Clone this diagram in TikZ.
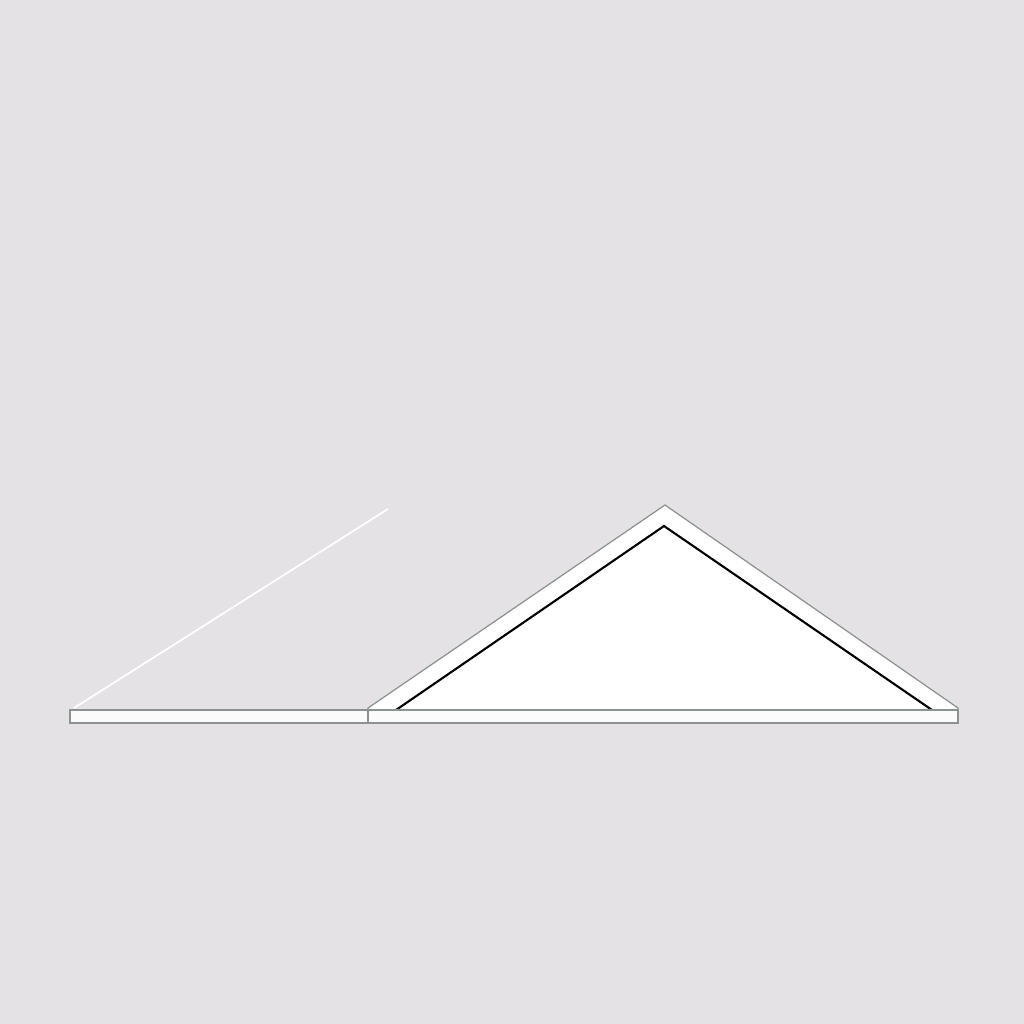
\documentclass[tikz,border=0pt]{standalone}
\usepackage{tikz}
\usetikzlibrary{positioning}

\definecolor{bgGray}{RGB}{228,226,228}
\definecolor{edgeGray}{RGB}{140,146,144}

\begin{document}
\begin{tikzpicture}[x=0.01cm,y=-0.01cm]
\tikzstyle{plank}=[fill=white!97!gray,draw=edgeGray,line width=0.35pt]
\tikzstyle{roof}=[fill=white,draw=edgeGray,line width=0.35pt]
\tikzstyle{inner}=[fill=white,draw=black,line width=0.6pt,line join=miter]

% background
\fill[bgGray] (0,0) rectangle (1024,1024);
\useasboundingbox (0,0) rectangle (1024,1024);

% corners
\coordinate (leftBarA) at (70,710);
\coordinate (leftBarB) at (368,723);
\coordinate (rightBarA) at (368,710);
\coordinate (rightBarB) at (958,723);

\coordinate (outerL) at (368,708);
\coordinate (outerTop) at (665,505);
\coordinate (outerR) at (958,708);

\coordinate (innerL) at (396,710);
\coordinate (innerTop) at (664,526);
\coordinate (innerR) at (932,710);

\coordinate (rayStart) at (74,708);
\coordinate (rayEnd) at (388,509);

% thin ray
\draw[white,line width=0.5pt] (rayStart) -- (rayEnd);

% roof
\draw[roof] (outerL) -- (outerTop) -- (outerR) -- (958,710) -- (368,710) -- cycle;
\draw[inner] (innerL) -- (innerTop) -- (innerR);

% bars
\draw[plank] (leftBarA) rectangle (leftBarB);
\draw[plank] (rightBarA) rectangle (rightBarB);

\end{tikzpicture}
\end{document}
